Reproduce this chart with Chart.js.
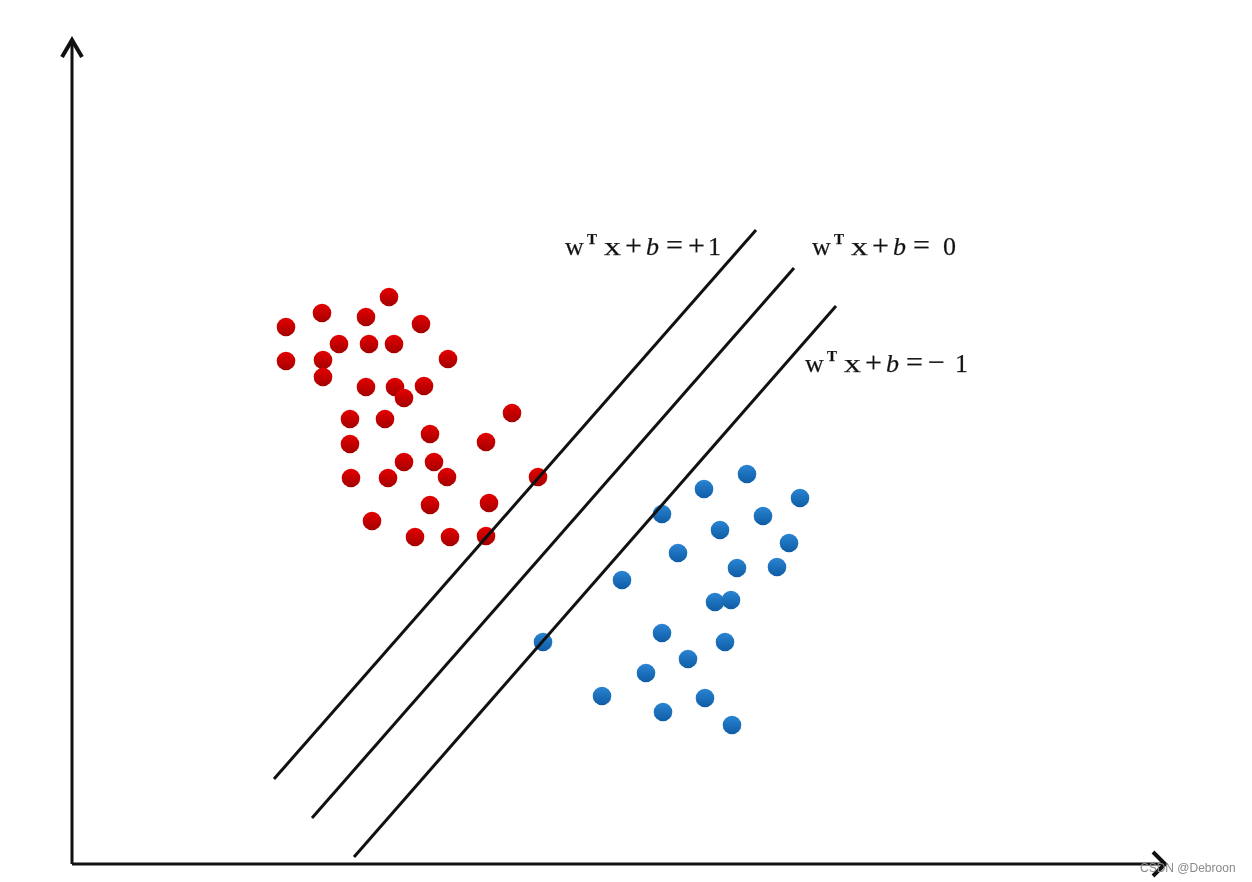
<!DOCTYPE html>
<html>
<head>
<meta charset="utf-8">
<script src="https://cdn.jsdelivr.net/npm/chart.js@4.4.0/dist/chart.umd.min.js"></script>
<style>
html, body { margin: 0; padding: 0; background: #fff; }
#wrap { width: 1252px; height: 882px; }
</style>
</head>
<body>
<div id="wrap"><canvas id="svm" width="1252" height="882"></canvas></div>
<script>
// positive class (red) samples
const redX = [317, 250, 294, 214, 349, 267, 297, 322, 214, 251, 376, 251, 294, 323, 332, 352, 278, 313,
              440, 358, 414, 278, 332, 362, 375, 279, 316, 466, 358, 417, 300, 343, 378, 414];
const redY = [567, 551, 547, 537, 540, 520, 520, 520, 503, 504, 505, 487, 477, 477, 466, 478, 445, 445,
              451, 430, 422, 420, 402, 402, 387, 386, 386, 387, 359, 361, 343, 327, 327, 328];

// negative class (blue) samples
const blueX = [675, 632, 728, 590, 691, 648, 717, 606, 665, 705, 550, 643, 659, 590, 653, 471, 616, 574,
               530, 633, 591, 660];
const blueY = [390, 375, 366, 350, 348, 334, 321, 311, 296, 297, 284, 262, 264, 231, 222, 222, 205, 191,
               168, 166, 152, 139];

// the three hyperplanes w'x+b = +1, 0, -1 (start / end points)
const planeRhs = ['+1', '0', '\u22121'];
const planeStartX = [202, 240, 282];
const planeStartY = [85, 46, 7];
const planeEndX = [684, 722, 764];
const planeEndY = [634, 596, 558];
// where each equation label starts (baseline)
const labelX = [493, 740, 733];
const labelY = [609, 609, 492];

// axes with arrows
const axisLen = { x: 1093, y: 824 };

function makeDot(top, bottom) {
    var c = document.createElement('canvas');
    c.width = 20; c.height = 20;
    var g = c.getContext('2d');
    var grad = g.createLinearGradient(0, 1, 0, 19);
    grad.addColorStop(0, top);
    grad.addColorStop(1, bottom);
    g.fillStyle = grad;
    g.beginPath();
    g.arc(10, 10, 9.3, 0, Math.PI * 2);
    g.fill();
    return c;
}
var redDot = makeDot('#e40000', '#a40000');
var blueDot = makeDot('#2a84d2', '#0f5ca6');

function pts(xs, ys) {
    return xs.map(function(x, i) { return { x: x, y: ys[i] }; });
}

function lineSet(data, width) {
    return {
        type: 'scatter',
        data: data,
        showLine: true,
        borderColor: '#111',
        borderWidth: width,
        pointRadius: 0,
        borderJoinStyle: 'miter',
        order: 0
    };
}

var datasets = [];
for (var i = 0; i < planeRhs.length; i++) {
    datasets.push(lineSet([{ x: planeStartX[i], y: planeStartY[i] }, { x: planeEndX[i], y: planeEndY[i] }], 3));
}
// axes
datasets.push(lineSet([{ x: 0, y: 0 }, { x: 0, y: axisLen.y }], 3));
datasets.push(lineSet([{ x: 0, y: 0 }, { x: axisLen.x, y: 0 }], 3));
datasets.push(lineSet([{ x: -10, y: axisLen.y - 17 }, { x: 0, y: axisLen.y }, { x: 10, y: axisLen.y - 17 }], 4));
datasets.push(lineSet([{ x: axisLen.x - 12, y: 12 }, { x: axisLen.x, y: 0 }, { x: axisLen.x - 12, y: -12 }], 4));

datasets.push({ label: 'red', data: pts(redX, redY), pointStyle: redDot, pointRadius: 9, order: 1 });
datasets.push({ label: 'blue', data: pts(blueX, blueY), pointStyle: blueDot, pointRadius: 9, order: 1 });

// equation labels and watermark
const eqLabels = {
    id: 'eqLabels',
    afterDatasetsDraw: function(chart) {
        var ctx = chart.ctx;
        var sx = chart.scales.x, sy = chart.scales.y;
        var serif = '"Liberation Serif", "Times New Roman", serif';
        function put(txt, font, x, y, stretch) {
            ctx.font = font;
            ctx.save();
            ctx.translate(x, y);
            ctx.scale(stretch || 1, 1);
            ctx.fillText(txt, 0, 0);
            ctx.strokeText(txt, 0, 0);
            ctx.restore();
        }
        ctx.save();
        ctx.fillStyle = '#111';
        ctx.strokeStyle = '#333';
        ctx.lineWidth = 0.25;
        ctx.textAlign = 'left';
        ctx.textBaseline = 'alphabetic';
        for (var i = 0; i < planeRhs.length; i++) {
            var x = sx.getPixelForValue(labelX[i]);
            var y = sy.getPixelForValue(labelY[i]);
            put('w', '26px ' + serif, x, y);
            put('T', 'bold 15px ' + serif, x + 22, y - 11);
            put('x', '26px ' + serif, x + 39, y, 1.3);
            put('+', '30px ' + serif, x + 60, y);
            put('b', 'italic 26px ' + serif, x + 81, y);
            put('=', '30px ' + serif, x + 101, y);
            var rhs = planeRhs[i];
            if (rhs.length === 1) {
                put(rhs, '26px ' + serif, x + 131, y);
            } else {
                put(rhs[0], '30px ' + serif, x + 123, y);
                put(rhs[1], '26px ' + serif, x + 124 + (rhs[0] === '+' ? 19 : 26), y);
            }
        }
        ctx.font = '12px "Liberation Sans", Arial, sans-serif';
        ctx.fillStyle = '#8a8a8a';
        ctx.fillText('CSDN @Debroon', chart.width - 112, chart.height - 10);
        ctx.restore();
    }
};

var ctx = document.getElementById('svm').getContext('2d');
var svmChart = new Chart(ctx, {
    type: 'scatter',
    data: { datasets: datasets },
    options: {
        responsive: false,
        animation: false,
        layout: { padding: 0, autoPadding: false },
        plugins: {
            legend: { display: false },
            tooltip: { enabled: false }
        },
        scales: {
            x: { type: 'linear', min: -72, max: 1180, display: false },
            y: { type: 'linear', min: -18, max: 864, display: false }
        },
        elements: {
            point: { borderWidth: 0 }
        }
    },
    plugins: [eqLabels]
});
</script>
</body>
</html>
